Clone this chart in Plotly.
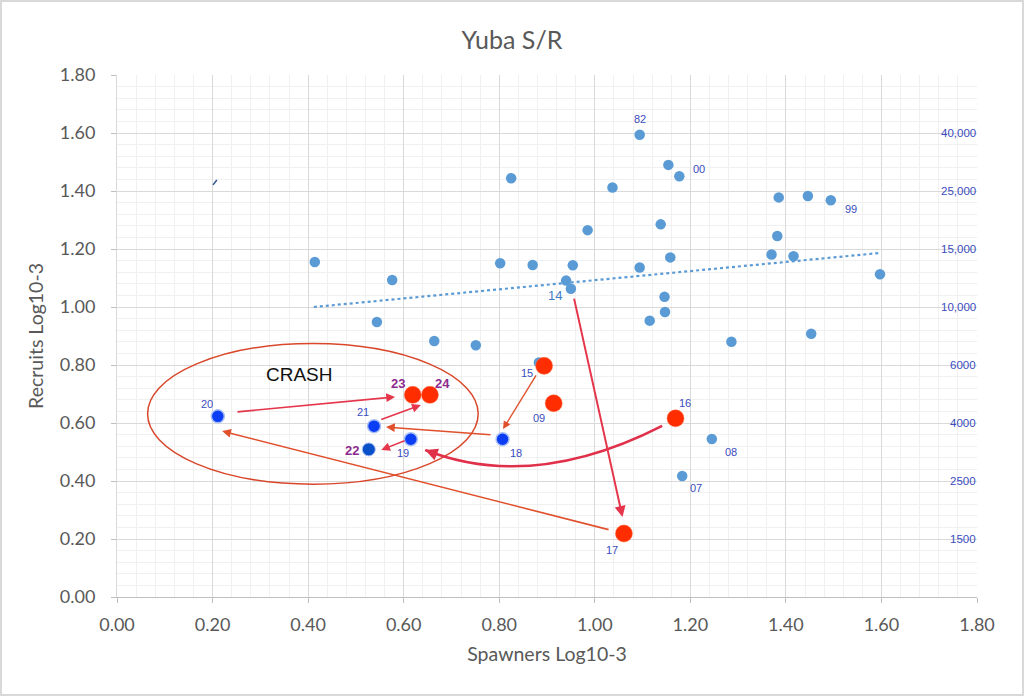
import plotly.graph_objects as go

# ---------------- data ----------------
# light-blue historical points (Spawners log10-3, Recruits log10-3)
hist_x = [0.414, 0.576, 0.544, 0.664, 0.751, 0.802, 0.825, 0.870, 0.883, 0.940,
          0.950, 0.954, 0.985, 1.037, 1.094, 1.094, 1.115, 1.138, 1.146, 1.147,
          1.154, 1.158, 1.177, 1.183, 1.245, 1.286, 1.370, 1.382, 1.385, 1.416,
          1.446, 1.453, 1.494, 1.597]
hist_y = [1.155, 1.093, 0.948, 0.883, 0.868, 1.151, 1.444, 1.145, 0.809, 1.091,
          1.063, 1.144, 1.265, 1.412, 1.594, 1.136, 0.953, 1.285, 1.035, 0.983,
          1.490, 1.171, 1.451, 0.417, 0.545, 0.880, 1.181, 1.245, 1.378, 1.175,
          1.383, 0.908, 1.368, 1.113]

# recent red years
red_years = ["15", "09", "16", "17", "23", "24"]
red_x = [0.894, 0.914, 1.169, 1.061, 0.619, 0.655]
red_y = [0.797, 0.668, 0.616, 0.219, 0.697, 0.697]

# crash years (dark blue)
blue_years = ["20", "21", "19", "18"]
blue_x = [0.211, 0.538, 0.615, 0.807]
blue_y = [0.623, 0.589, 0.544, 0.544]
y22_x = [0.527]
y22_y = [0.509]

# trend line endpoints
trend_x = [0.412, 1.595]
trend_y = [1.000, 1.186]

# year labels: text, anchor point
label_text = ["82", "00", "99", "14", "08", "07", "15", "09", "16", "17",
              "18", "19", "20", "21", "22", "23", "24"]
label_x = [1.094, 1.177, 1.494, 0.950, 1.245, 1.183, 0.894, 0.914, 1.169, 1.061,
           0.807, 0.615, 0.211, 0.538, 0.527, 0.619, 0.655]
label_y = [1.594, 1.451, 1.368, 1.063, 0.545, 0.417, 0.797, 0.668, 0.616, 0.219,
           0.544, 0.544, 0.623, 0.589, 0.509, 0.697, 0.697]

# straight arrows (tail -> head)
arrow_x0 = [0.956, 1.032, 0.249, 0.550, 0.785, 0.605, 0.879]
arrow_y0 = [1.034, 0.231, 0.638, 0.610, 0.559, 0.541, 0.769]
arrow_x1 = [1.058, 0.220, 0.582, 0.636, 0.563, 0.553, 0.808]
arrow_y1 = [0.276, 0.572, 0.690, 0.662, 0.586, 0.507, 0.579]

# curved arrow 16 -> 19 (start, control, end)
curve_x = [1.141, 0.870, 0.645]
curve_y = [0.590, 0.362, 0.507]

# crash ellipse bounds
crash_x = [0.064, 0.756]
crash_y = [0.389, 0.874]

# right-side count labels at log levels
count_labels = ["40,000", "25,000", "15,000", "10,000", "6000", "4000", "2500", "1500"]
count_levels = [1.60, 1.40, 1.20, 1.00, 0.80, 0.60, 0.40, 0.20]

# small stray mark
mark_x = [0.201, 0.209]
mark_y = [1.421, 1.438]

# ---------------- styles ----------------
FONT = "Lato"
GRAY = "#595959"
LBL = "#3A4CC0"
PURPLE = "#8E2B8E"
CRIMSON = "#E5364C"
ORANGE = "#E0502C"

label_style = {
    "82": dict(dx=0, dy=-16, size=11, color=LBL, bold=False),
    "00": dict(dx=20, dy=-7, size=11, color=LBL, bold=False),
    "99": dict(dx=20, dy=9, size=11, color=LBL, bold=False),
    "14": dict(dx=-16, dy=7, size=13, color="#3E7DC8", bold=False),
    "08": dict(dx=19, dy=13, size=11, color=LBL, bold=False),
    "07": dict(dx=14, dy=12, size=11, color=LBL, bold=False),
    "15": dict(dx=-17, dy=7, size=11, color=LBL, bold=False),
    "09": dict(dx=-15, dy=15, size=11, color=LBL, bold=False),
    "16": dict(dx=9, dy=-15, size=11, color=LBL, bold=False),
    "17": dict(dx=-12, dy=17, size=11, color=LBL, bold=False),
    "18": dict(dx=13, dy=14, size=11, color=LBL, bold=False),
    "19": dict(dx=-8, dy=14, size=11, color=LBL, bold=False),
    "20": dict(dx=-11, dy=-12, size=11, color=LBL, bold=False),
    "21": dict(dx=-11, dy=-14, size=11, color=LBL, bold=False),
    "22": dict(dx=-17, dy=1, size=13, color=PURPLE, bold=True),
    "23": dict(dx=-15, dy=-11, size=13, color=PURPLE, bold=True),
    "24": dict(dx=13, dy=-11, size=13, color=PURPLE, bold=True),
}
arrow_colors = [CRIMSON, ORANGE, CRIMSON, CRIMSON, ORANGE, CRIMSON, ORANGE]
arrow_widths = [2.0, 1.6, 1.6, 1.6, 1.6, 1.6, 1.4]

fig = go.Figure()

fig.add_trace(go.Scatter(x=trend_x, y=trend_y, mode="lines",
                         line=dict(color="#5B9BD5", width=2.2, dash="dot"),
                         hoverinfo="skip", showlegend=False))
fig.add_trace(go.Scatter(x=hist_x, y=hist_y, mode="markers",
                         marker=dict(color="#5B9BD5", size=10.5), showlegend=False))
fig.add_trace(go.Scatter(x=mark_x, y=mark_y, mode="lines",
                         line=dict(color="#2F5597", width=1.5), showlegend=False))

# ellipse
fig.add_shape(type="circle", xref="x", yref="y",
              x0=crash_x[0], x1=crash_x[1], y0=crash_y[0], y1=crash_y[1],
              line=dict(color="#D9472B", width=1.5))

# curved arrow
fig.add_shape(type="path", xref="x", yref="y",
              path=f"M {curve_x[0]},{curve_y[0]} Q {curve_x[1]},{curve_y[1]} {curve_x[2]},{curve_y[2]}",
              line=dict(color="#E0304A", width=2.5))
tail_x = curve_x[2] + 0.08 * (curve_x[1] - curve_x[2])
tail_y = curve_y[2] + 0.08 * (curve_y[1] - curve_y[2])
fig.add_annotation(x=curve_x[2], y=curve_y[2], ax=tail_x, ay=tail_y,
                   xref="x", yref="y", axref="x", ayref="y", text="",
                   showarrow=True, arrowhead=2, arrowsize=1.0, arrowwidth=2.5,
                   arrowcolor="#E0304A")

for x0, y0, x1, y1, c, w in zip(arrow_x0, arrow_y0, arrow_x1, arrow_y1, arrow_colors, arrow_widths):
    fig.add_annotation(x=x1, y=y1, ax=x0, ay=y0, xref="x", yref="y",
                       axref="x", ayref="y", text="", showarrow=True,
                       arrowhead=2, arrowsize=1.1, arrowwidth=w, arrowcolor=c,
                       standoff=0)

fig.add_trace(go.Scatter(x=red_x, y=red_y, mode="markers",
                         marker=dict(color="#FF2D00", size=17, line=dict(color="#FF6A40", width=0.5)),
                         showlegend=False))
fig.add_trace(go.Scatter(x=blue_x, y=blue_y, mode="markers",
                         marker=dict(color="#0B3DF5", size=13, line=dict(color="#A9C0F5", width=1.5)),
                         showlegend=False))
fig.add_trace(go.Scatter(x=y22_x, y=y22_y, mode="markers",
                         marker=dict(color="#0A50C8", size=13, line=dict(color="#A9C0F5", width=1)),
                         showlegend=False))

for t, x, y in zip(label_text, label_x, label_y):
    s = label_style[t]
    txt = f"<b>{t}</b>" if s["bold"] else t
    fig.add_annotation(x=x, y=y, xref="x", yref="y", text=txt, showarrow=False,
                       xshift=s["dx"], yshift=-s["dy"],
                       font=dict(family="Arial", size=s["size"], color=s["color"]))

for t, lv in zip(count_labels, count_levels):
    fig.add_annotation(x=1.0, y=lv, xref="paper", yref="y", text=t, showarrow=False,
                       xanchor="right", xshift=1,
                       font=dict(family="Arial", size=11.5, color=LBL))

fig.add_annotation(x=0.383, y=0.766, xref="x", yref="y", text="CRASH", showarrow=False,
                   font=dict(family="Arial", size=19, color="#111111"))

# outer frame
L, R, T, B = 117, 47, 75, 99
PW, PH = 1024 - L - R, 696 - T - B
fig.add_shape(type="rect", xref="paper", yref="paper",
              x0=-(L - 1) / PW, x1=1 + (R - 1) / PW, y0=-(B - 1) / PH, y1=1 + (T - 1) / PH,
              line=dict(color="#D9D9D9", width=2), layer="below")

axis_common = dict(range=[0, 1.8], dtick=0.2, tick0=0, tickformat=".2f",
                   showgrid=True, gridcolor="#D9D9D9", gridwidth=1,
                   zeroline=False, showline=True, linecolor="#D9D9D9", linewidth=1,
                   ticks="outside", ticklen=5, tickcolor="#BFBFBF",
                   tickfont=dict(family=FONT, size=18, color=GRAY),
                   minor=dict(dtick=0.04, showgrid=True, gridcolor="#F0F0F0", gridwidth=1),
                   fixedrange=True)

fig.update_layout(
    width=1024, height=696,
    margin=dict(l=L, r=R, t=T, b=B),
    paper_bgcolor="white", plot_bgcolor="white",
    title=dict(text="Yuba S/R", x=0.5, xanchor="center", y=1 - 40 / 696, yanchor="middle",
               font=dict(family=FONT, size=25, color=GRAY)),
    xaxis=dict(axis_common, ticklabelstandoff=6,
               title=dict(text="Spawners Log10-3", standoff=13,
                          font=dict(family=FONT, size=19.5, color=GRAY))),
    yaxis=dict(axis_common, ticklabelstandoff=12,
               title=dict(text="Recruits Log10-3", standoff=10,
                          font=dict(family=FONT, size=19.5, color=GRAY))),
    showlegend=False,
)
fig.update_xaxes(linecolor="#BFBFBF")

fig.write_html("out.html", config={"displayModeBar": False},
               post_script="document.body.style.margin='0';document.body.style.overflow='hidden';")
